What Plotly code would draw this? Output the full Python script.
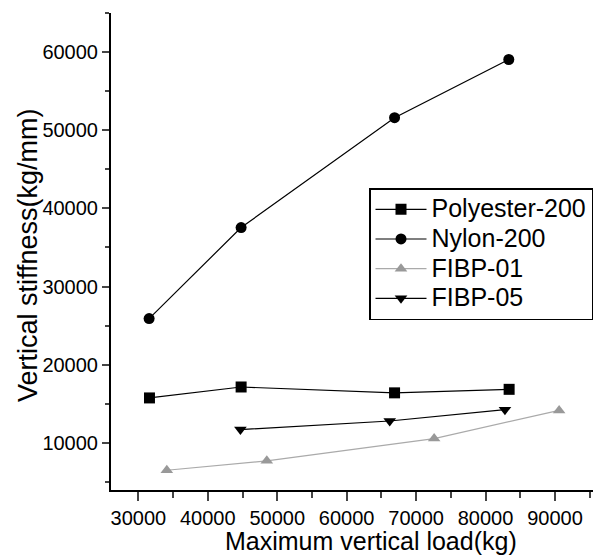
import plotly.graph_objects as go

# Data
poly_x = [31600, 44800, 66900, 83400]
poly_y = [15750, 17150, 16400, 16850]

nylon_x = [31550, 44800, 66900, 83350]
nylon_y = [25900, 37550, 51600, 59050]

fibp01_x = [34100, 48500, 72600, 90600]
fibp01_y = [6500, 7700, 10550, 14150]

fibp05_x = [44700, 66200, 82800]
fibp05_y = [11700, 12800, 14250]

x_ticks = [30000, 40000, 50000, 60000, 70000, 80000, 90000]
x_tick_labels = ["30000", "40000", "50000", "60000", "70000", "80000", "90000"]
y_ticks = [10000, 20000, 30000, 40000, 50000, 60000]
y_tick_labels = ["10000", "20000", "30000", "40000", "50000", "60000"]

FONT = "Liberation Sans, Arial, Helvetica, sans-serif"

# page is rendered with an 8px body margin; figure is sized to fit the window
W, H = 594, 549
L, R, T, B = 103, 9, 5, 67
PW, PH = W - L - R, H - T - B
OFF = 8


def px_x(sx):
    return (sx - OFF - L) / PW


def px_y(sy):
    return 1 - (sy - OFF - T) / PH


def leg(name):
    return '<span style="font-size:25px">' + name + '</span>'


fig = go.Figure()
fig.add_trace(go.Scatter(x=poly_x, y=poly_y, name=leg("Polyester-200"), mode="lines+markers",
                         line=dict(color="black", width=1.2),
                         marker=dict(symbol="square", size=11, color="black")))
fig.add_trace(go.Scatter(x=nylon_x, y=nylon_y, name=leg("Nylon-200"), mode="lines+markers",
                         line=dict(color="black", width=1.2),
                         marker=dict(symbol="circle", size=11, color="black")))
fig.add_trace(go.Scatter(x=fibp01_x, y=fibp01_y, name=leg("FIBP-01"), mode="lines+markers",
                         line=dict(color="#aaaaaa", width=1.2),
                         marker=dict(symbol="triangle-up", size=11, color="#999999")))
fig.add_trace(go.Scatter(x=fibp05_x, y=fibp05_y, name=leg("FIBP-05"), mode="lines+markers",
                         line=dict(color="black", width=1.2),
                         marker=dict(symbol="triangle-down", size=11, color="black")))

fig.update_layout(
    width=W, height=H,
    margin=dict(l=L, r=R, t=T, b=B),
    paper_bgcolor="white", plot_bgcolor="white",
    font=dict(family=FONT, color="black", size=20),
    showlegend=True,
    legend=dict(x=px_x(369), y=px_y(188), xanchor="left", yanchor="top",
                bordercolor="black", borderwidth=1.5, bgcolor="white",
                font=dict(size=20.5, family=FONT), itemwidth=51,
                tracegroupgap=0),
)
fig.update_xaxes(range=[26060, 95480], tickvals=x_ticks, ticktext=x_tick_labels,
                 ticks="outside", ticklen=9,
                 tickwidth=1.5, showline=True, linecolor="black", linewidth=2,
                 showgrid=False, zeroline=False, tickfont=dict(size=20),
                 minor=dict(dtick=5000, tick0=0, ticks="outside", ticklen=6, tickwidth=1.5, showgrid=False))
fig.update_yaxes(range=[3970, 65000], tickvals=y_ticks, ticktext=y_tick_labels,
                 ticks="outside", ticklen=7,
                 tickwidth=1.5, showline=True, linecolor="black", linewidth=2,
                 showgrid=False, zeroline=False, tickfont=dict(size=20),
                 minor=dict(dtick=5000, tick0=0, ticks="outside", ticklen=4, tickwidth=1.5, showgrid=False))

fig.add_annotation(text="Maximum vertical load(kg)", xref="paper", yref="paper",
                   x=px_x(371), y=px_y(541), xanchor="center", yanchor="middle",
                   showarrow=False, font=dict(size=25, family=FONT))
fig.add_annotation(text="Vertical stiffness(kg/mm)", xref="paper", yref="paper",
                   x=px_x(28), y=px_y(255), xanchor="center", yanchor="middle",
                   textangle=-90, showarrow=False, font=dict(size=27, family=FONT))

fig.write_html("out.html", config={"displayModeBar": False})
